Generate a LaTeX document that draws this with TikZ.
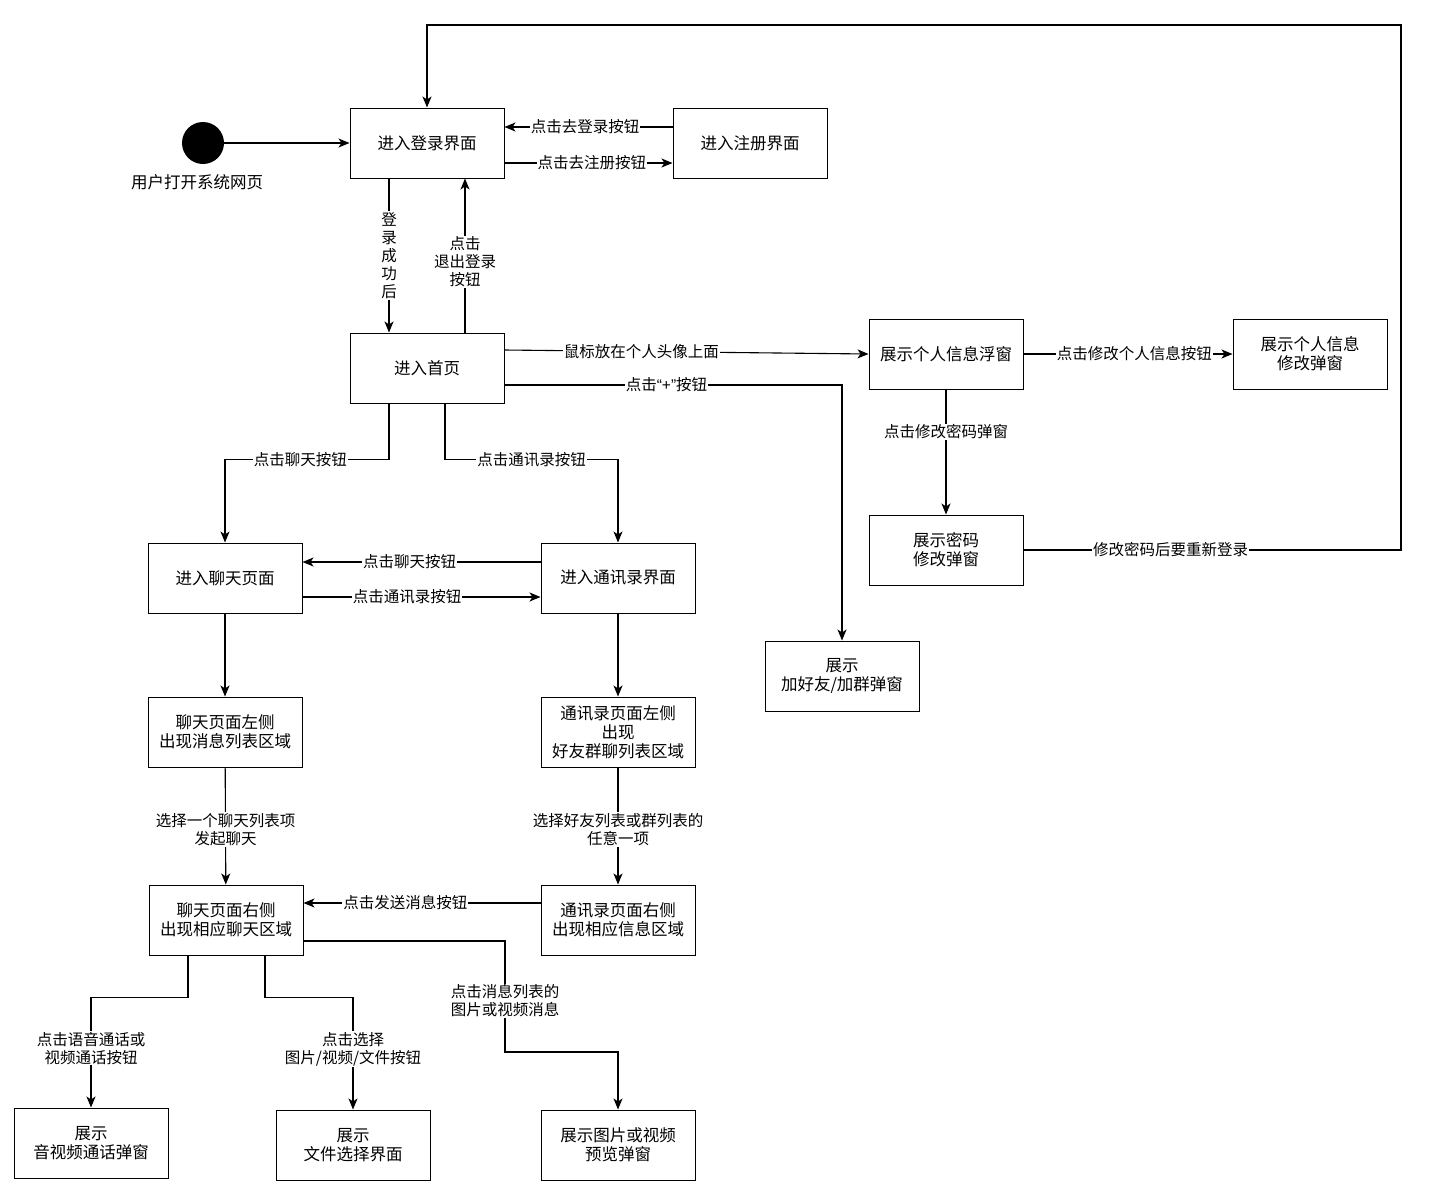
\documentclass[tikz,border=0pt]{standalone}
\usepackage{fontspec}
\setmainfont{Noto Sans CJK SC}
\newfontfamily\latinq{Liberation Sans}
\usetikzlibrary{arrows.meta,calc}
\begin{document}
\begin{tikzpicture}[x=1pt,y=-1pt,
  box/.style={draw,line width=1pt,minimum width=154pt,minimum height=70pt,align=center,inner sep=2pt,font=\fontsize{16.5}{19}\selectfont,fill=white},
  arr/.style={draw,line width=1.1pt,-{Stealth[length=11pt,width=9pt,inset=3pt]}},
  lbl/.style={fill=white,inner sep=1pt,align=center,font=\fontsize{15.5}{18}\selectfont}]
\useasboundingbox[fill=white] (0,0) rectangle (1429,1194);
% nodes
\node[circle,fill=black,minimum size=42pt,inner sep=0pt] (start) at (203,143) {};
\node[font=\fontsize{16.5}{19}\selectfont] (startlbl) at (197,182) {用户打开系统网页};
\node[box] (login) at (427,143) {进入登录界面};
\node[box] (reg) at (750,143) {进入注册界面};
\node[box] (home) at (427,368) {进入首页};
\node[box] (info) at (946,354) {展示个人信息浮窗};
\node[box] (infomod) at (1310,354) {展示个人信息\\修改弹窗};
\node[box] (pwd) at (946,550) {展示密码\\修改弹窗};
\node[box] (addf) at (842,676) {展示\\加好友/加群弹窗};
\node[box] (chat) at (225,578) {进入聊天页面};
\node[box] (contacts) at (618,578) {进入通讯录界面};
\node[box] (chatl) at (225,732) {聊天页面左侧\\出现消息列表区域};
\node[box] (contactsl) at (618,732) {通讯录页面左侧\\出现\\好友群聊列表区域};
\node[box] (chatr) at (226,920) {聊天页面右侧\\出现相应聊天区域};
\node[box] (contactsr) at (618,920) {通讯录页面右侧\\出现相应信息区域};
\node[box] (av) at (91,1143) {展示\\音视频通话弹窗};
\node[box] (file) at (353,1145) {展示\\文件选择界面};
\node[box] (preview) at (618,1145) {展示图片或视频\\预览弹窗};
\coordinate (tr) at (1401,25);
\coordinate (pv) at (505,1052);
% edges
\draw[arr] (start) -- (login);
\draw[arr] ([yshift=16pt]reg.west) -- node[lbl,pos=0.52]{点击去登录按钮} ([yshift=16pt]login.east);
\draw[arr] ([yshift=-20pt]login.east) -- node[lbl,pos=0.52]{点击去注册按钮} ([yshift=-20pt]reg.west);
\draw[arr] ([xshift=-38pt]login.south) -- node[lbl,pos=0.5]{登\\录\\成\\功\\后} ([xshift=-38pt]home.north);
\draw[arr] ([xshift=38pt]home.north) -- node[lbl,pos=0.46]{点击\\退出登录\\按钮} ([xshift=38pt]login.south);
\draw[arr] ([yshift=18pt]home.east) -- node[lbl,pos=0.376]{鼠标放在个人头像上面} (info.west);
\draw[arr] ([yshift=-17pt]home.east) -| node[lbl,pos=0.24]{点击{\latinq “+”}按钮} (addf.north);
\draw[arr] (info) -- node[lbl,pos=0.53]{点击修改个人信息按钮} (infomod);
\draw[arr] (info) -- node[lbl,pos=0.34]{点击修改密码弹窗} (pwd);
\draw[arr,line width=1.5pt] (pwd.east) -- node[lbl,pos=0.39]{修改密码后要重新登录} (pwd.east -| tr) -- (tr) -- (tr -| login.north) -- (login.north);
\draw[arr] ([xshift=-38pt]home.south) -- ++(0,56) -| node[lbl,pos=0.27]{点击聊天按钮} (chat.north);
\draw[arr] ([xshift=18pt]home.south) -- ++(0,56) -| node[lbl,pos=0.25]{点击通讯录按钮} (contacts.north);
\draw[arr] ([yshift=16pt]contacts.west) -- node[lbl,pos=0.55]{点击聊天按钮} ([yshift=16pt]chat.east);
\draw[arr] ([yshift=-19pt]chat.east) -- node[lbl,pos=0.44]{点击通讯录按钮} ([yshift=-19pt]contacts.west);
\draw[arr] (chat) -- (chatl);
\draw[arr] (contacts) -- (contactsl);
\draw[arr] (chatl) -- node[lbl,pos=0.53]{选择一个聊天列表项\\发起聊天} (chatr);
\draw[arr] (contactsl) -- node[lbl,pos=0.53]{选择好友列表或群列表的\\任意一项} (contactsr);
\draw[arr] ([yshift=17pt]contactsr.west) -- node[lbl,pos=0.57]{点击发送消息按钮} ([yshift=17pt]chatr.east);
\draw[arr] ([xshift=-38pt]chatr.south) -- ++(0,42) -| node[lbl,pos=0.73]{点击语音通话或\\视频通话按钮} (av.north);
\draw[arr] ([xshift=39pt]chatr.south) -- ++(0,42) -| node[lbl,pos=0.73]{点击选择\\图片/视频/文件按钮} (file.north);
\draw[arr] ([yshift=-21pt]chatr.east) -| node[lbl,pos=0.77]{点击消息列表的\\图片或视频消息} (pv) -| (preview.north);
\end{tikzpicture}
\end{document}
